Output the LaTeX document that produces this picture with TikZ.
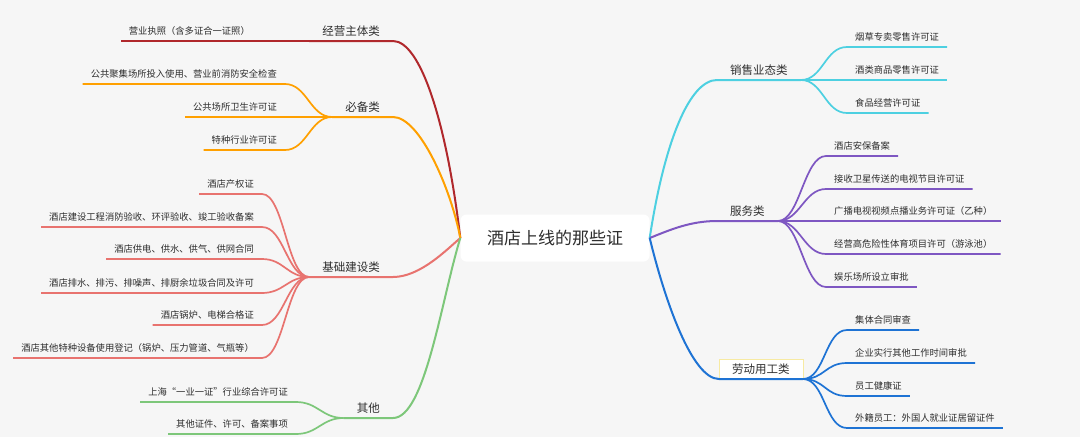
\documentclass[tikz,border=0pt]{standalone}
\usepackage{fontspec}
\setmainfont{Noto Sans CJK SC}
\usepackage{xcolor}
\usetikzlibrary{positioning}

\definecolor{bgc}{HTML}{F6F6F6}
\definecolor{txt}{HTML}{2E2E2E}
\definecolor{cRed}{HTML}{B0282C}
\definecolor{cOrg}{HTML}{FFA000}
\definecolor{cSal}{HTML}{E8736F}
\definecolor{cGrn}{HTML}{7DC77A}
\definecolor{cCyn}{HTML}{4DD0E1}
\definecolor{cPur}{HTML}{7E57C2}
\definecolor{cBlu}{HTML}{1E73D4}
\definecolor{cYel}{HTML}{F7EAA2}

\begin{document}
\begin{tikzpicture}[x=1pt,y=-1pt,
  every node/.style={text=txt},
  rootbox/.style={fill=white,rounded corners=6pt,minimum width=189pt,minimum height=47pt,font=\fontsize{17}{20}\selectfont},
  cat/.style={font=\fontsize{11.5}{14}\selectfont,inner xsep=13pt,inner ysep=4pt,text height=10pt,text depth=1.5pt},
  leaf/.style={font=\fontsize{9.3}{11}\selectfont,inner xsep=8pt,inner ysep=4pt,text height=8pt,text depth=2pt},
  br/.style={line width=2pt},
  tw/.style={line width=1.7pt}]
\fill[bgc] (0,0) rectangle (1080,437);
\useasboundingbox (0,0) rectangle (1080,437);

\node[rootbox] (root) at (555,238) {酒店上线的那些证};

% left side
\node[cat,anchor=south east] (k1) at (393,41) {经营主体类};
\node[cat,anchor=south east] (k2) at (393,117) {必备类};
\node[cat,anchor=south east] (k3) at (393,277) {基础建设类};
\node[cat,anchor=south east] (k4) at (393,418) {其他};

\node[leaf,anchor=south east] (a1) at (258,41) {营业执照（含多证合一证照）};
\node[leaf,anchor=south east] (b1) at (285,84) {公共聚集场所投入使用、营业前消防安全检查};
\node[leaf,anchor=south east] (b2) at (285,117) {公共场所卫生许可证};
\node[leaf,anchor=south east] (b3) at (285,150) {特种行业许可证};
\node[leaf,anchor=south east] (c1) at (262,194) {酒店产权证};
\node[leaf,anchor=south east] (c2) at (262,227) {酒店建设工程消防验收、环评验收、竣工验收备案};
\node[leaf,anchor=south east] (c3) at (262,259) {酒店供电、供水、供气、供网合同};
\node[leaf,anchor=south east] (c4) at (262,293) {酒店排水、排污、排噪声、排厨余垃圾合同及许可};
\node[leaf,anchor=south east] (c5) at (262,325) {酒店锅炉、电梯合格证};
\node[leaf,anchor=south east] (c6) at (262,358) {酒店其他特种设备使用登记（锅炉、压力管道、气瓶等）};
\node[leaf,anchor=south east] (d1) at (296,402) {上海“一业一证”行业综合许可证};
\node[leaf,anchor=south east] (d2) at (296,434) {其他证件、许可、备案事项};

% right side
\node[cat,anchor=south west] (k5) at (717,80) {销售业态类};
\node[cat,anchor=south west] (k6) at (717,221) {服务类};
\node[cat,anchor=south west,draw=cYel,fill=white] (k7) at (719,379) {劳动用工类};

\node[leaf,anchor=south west] (e1) at (847,47) {烟草专卖零售许可证};
\node[leaf,anchor=south west] (e2) at (847,80) {酒类商品零售许可证};
\node[leaf,anchor=south west] (e3) at (847,113) {食品经营许可证};
\node[leaf,anchor=south west] (f1) at (826,156) {酒店安保备案};
\node[leaf,anchor=south west] (f2) at (826,189) {接收卫星传送的电视节目许可证};
\node[leaf,anchor=south west] (f3) at (826,221) {广播电视视频点播业务许可证（乙种）};
\node[leaf,anchor=south west] (f4) at (826,254) {经营高危险性体育项目许可（游泳池）};
\node[leaf,anchor=south west] (f5) at (826,287) {娱乐场所设立审批};
\node[leaf,anchor=south west] (g1) at (847,330) {集体合同审查};
\node[leaf,anchor=south west] (g2) at (847,363) {企业实行其他工作时间审批};
\node[leaf,anchor=south west] (g3) at (847,396) {员工健康证};
\node[leaf,anchor=south west] (g4) at (847,428) {外籍员工：外国人就业证居留证件};

% main branches
\draw[br,cRed] (root.west) .. controls +(-14,-118) and +(27,0) .. (k1.south east) -- (k1.south west);
\draw[br,cOrg] (root.west) .. controls +(-9,-48) and +(27,0) .. (k2.south east) -- (k2.south west);
\draw[br,cSal] (root.west) .. controls +(-14,12) and +(27,0) .. (k3.south east) -- (k3.south west);
\draw[br,cGrn] (root.west) .. controls +(-19,62) and +(32,0) .. (k4.south east) -- (k4.south west);
\draw[br,cCyn] (root.east) .. controls +(15,-98) and +(-27,0) .. (k5.south west) -- (k5.south east);
\draw[br,cPur] (root.east) .. controls +(20,-8) and +(-27,0) .. (k6.south west) -- (k6.south east);
\draw[br,cBlu] (root.east) .. controls +(15,62) and +(-27,0) .. (k7.south west) -- (k7.south east);

% leaves
\draw[tw,cRed] (k1.south west) -- (a1.south east) -- (a1.south west);
\foreach \n in {b1,b2,b3}
  \draw[tw,cOrg] (k2.south west) .. controls +(-22,0) and +(22,0) .. (\n.south east) -- (\n.south west);
\foreach \n in {c1,c2,c3,c4,c5,c6}
  \draw[tw,cSal] (k3.south west) .. controls +(-22,0) and +(22,0) .. (\n.south east) -- (\n.south west);
\foreach \n in {d1,d2}
  \draw[tw,cGrn] (k4.south west) .. controls +(-22,0) and +(22,0) .. (\n.south east) -- (\n.south west);
\foreach \n in {e1,e2,e3}
  \draw[tw,cCyn] (k5.south east) .. controls +(22,0) and +(-22,0) .. (\n.south west) -- (\n.south east);
\foreach \n in {f1,f2,f3,f4,f5}
  \draw[tw,cPur] (k6.south east) .. controls +(22,0) and +(-22,0) .. (\n.south west) -- (\n.south east);
\foreach \n in {g1,g2,g3,g4}
  \draw[tw,cBlu] (k7.south east) .. controls +(22,0) and +(-22,0) .. (\n.south west) -- (\n.south east);
\end{tikzpicture}
\end{document}
